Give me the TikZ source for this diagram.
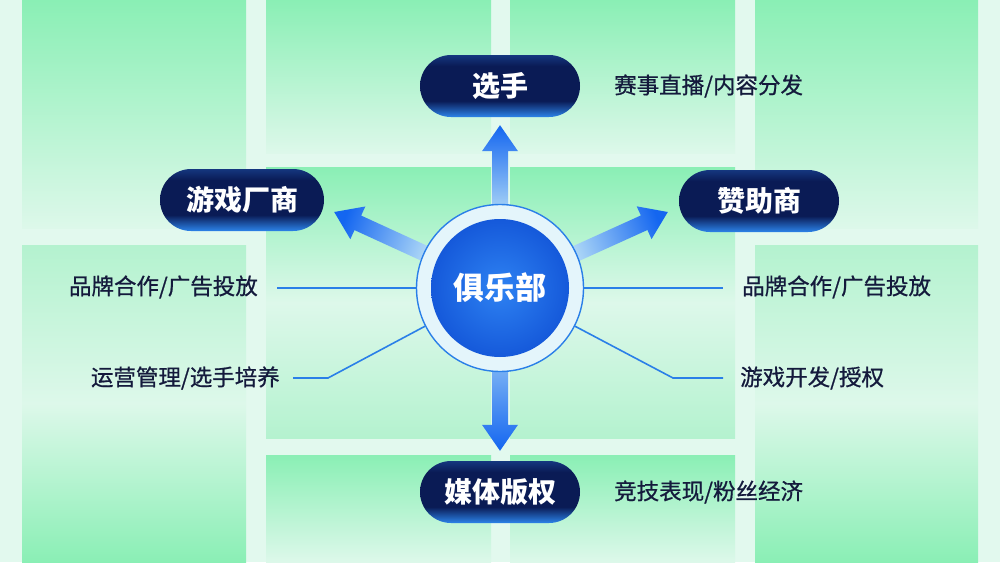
\documentclass[tikz,border=0pt]{standalone}
\usepackage{fontspec}
\newfontfamily\cjk{Noto Sans CJK SC}
\newfontfamily\cjkm{Noto Sans CJK SC}[FakeBold=0.7]
\usetikzlibrary{calc}
\definecolor{bgpale}{HTML}{E2F9EE}
\definecolor{gtop}{HTML}{8AEFB5}
\definecolor{gpale}{HTML}{DDF8EA}
\definecolor{gsoft}{HTML}{B4F2CF}
\definecolor{navy}{HTML}{0A1B55}
\definecolor{navytop}{HTML}{15377F}
\definecolor{pillbot}{HTML}{2C84EA}
\definecolor{txt}{HTML}{141A3C}
\definecolor{lineblue}{HTML}{2A7FE8}
\definecolor{arrblue}{HTML}{1466F0}
\definecolor{arrpale}{HTML}{B5DDF7}
\definecolor{ringfill}{HTML}{E4F5FB}
\definecolor{coreout}{HTML}{1559DA}
\definecolor{corein}{HTML}{2E82F2}
\pgfdeclareverticalshading{pillshade}{100bp}{color(0bp)=(pillbot); color(25bp)=(pillbot); color(38bp)=(navy); color(66bp)=(navy); color(75bp)=(navytop); color(100bp)=(navytop)}
\newcommand\bigarrow[3]{%
  \coordinate (ah) at ($(#2)!26pt!(#1)$);
  \path[#3] ($(#1)!8pt!90:(#2)$) -- ($(ah)!8pt!90:(#2)$) -- ($(ah)!18pt!90:(#2)$) -- (#2)
    -- ($(ah)!18pt!-90:(#2)$) -- ($(ah)!8pt!-90:(#2)$) -- ($(#1)!8pt!-90:(#2)$) -- cycle;}
\begin{document}
\begin{tikzpicture}[x=1pt,y=-1pt,
  pill/.style={rounded corners=31pt, minimum width=160pt, minimum height=62pt, shading=pillshade, text=white, font=\cjk\bfseries\fontsize{28}{32}\selectfont, inner sep=0pt},
  lab/.style={text=txt, font=\cjkm\fontsize{22.5}{26}\selectfont, inner sep=0pt},
  leader/.style={draw=lineblue, line width=1.6pt},
  tile/.style={top color=gtop, bottom color=gpale},
  tile3/.style={top color=gsoft, bottom color=gtop, middle color=gpale},
  tile2/.style={top color=gtop, bottom color=gsoft, middle color=gpale}
]
\useasboundingbox (0,0) rectangle (1000,562);
\fill[bgpale] (0,0) rectangle (1000,562);
% background tiles
\path[tile] (22,0) rectangle (246,228);
\path[tile] (266,0) rectangle (491,153);
\path[tile] (510,0) rectangle (735,153);
\path[tile] (755,0) rectangle (978,228);
\path[tile3] (22,245) rectangle (246,562);
\path[tile3] (755,245) rectangle (978,562);
\path[tile2] (266,167) rectangle (491,438);
\path[tile2] (510,167) rectangle (735,438);
\path[tile] (266,455) rectangle (491,562);
\path[tile] (510,455) rectangle (735,562);

% outer nodes
\node[pill] (player) at (500,86) {选手};
\node[pill, minimum width=164pt] (maker) at (242,200) {游戏厂商};
\node[pill] (sponsor) at (759,201) {赞助商};
\node[pill] (media) at (500,492) {媒体版权};

% labels
\node[lab, anchor=west] (lPlayer) at (614,86) {赛事直播/内容分发};
\node[lab, anchor=west] (lMedia) at (614,492) {竞技表现/粉丝经济};
\node[lab, anchor=east] (lBrandL) at (258,287) {品牌合作/广告投放};
\node[lab, anchor=east] (lOps) at (280,378) {运营管理/选手培养};
\node[lab, anchor=west] (lBrandR) at (742,287) {品牌合作/广告投放};
\node[lab, anchor=west] (lDev) at (740,378) {游戏开发/授权};

% geometry for arrows
\coordinate (ctr) at (500,288);
\coordinate (tU) at ($(player.south)+(0,8)$);
\coordinate (tD) at ($(media.north)+(0,-10)$);
\coordinate (tL) at ($(maker.east)+(10,12)$);
\coordinate (tR) at ($(sponsor.west)+(-11,11)$);
\coordinate (bU) at ($(ctr)!70pt!(tU)$);
\coordinate (bD) at ($(ctr)!70pt!(tD)$);
\coordinate (bL) at ($(ctr)!70pt!(tL)$);
\coordinate (bR) at ($(ctr)!70pt!(tR)$);

\bigarrow{bU}{tU}{top color=arrblue, bottom color=arrpale}
\bigarrow{bD}{tD}{top color=arrpale!70!arrblue, bottom color=arrblue}
\bigarrow{bL}{tL}{top color=arrblue, bottom color=arrpale, shading angle=69}
\bigarrow{bR}{tR}{top color=arrblue, bottom color=arrpale, shading angle=-69}

% ring and core
\node[circle, minimum size=167pt, inner sep=0pt, fill=ringfill, draw=lineblue, line width=1.4pt] (ring) at (ctr) {};
\node[circle, minimum size=138pt, inner sep=0pt, inner color=corein, outer color=coreout, text=white, font=\cjk\bfseries\fontsize{31}{34}\selectfont] (club) at (ctr) {俱乐部};

% leader lines
\coordinate (eL1) at (277,288);
\coordinate (eL2) at (293,378);
\coordinate (kL2) at (328,378);
\coordinate (eR1) at (723,288);
\coordinate (eR2) at (723,378);
\coordinate (kR2) at (673,378);
\draw[leader] (eL1) -- (ring.west);
\draw[leader] (eL2) -- (kL2) -- (ring.207);
\draw[leader] (ring.east) -- (eR1);
\draw[leader] (ring.333) -- (kR2) -- (eR2);
\end{tikzpicture}
\end{document}
